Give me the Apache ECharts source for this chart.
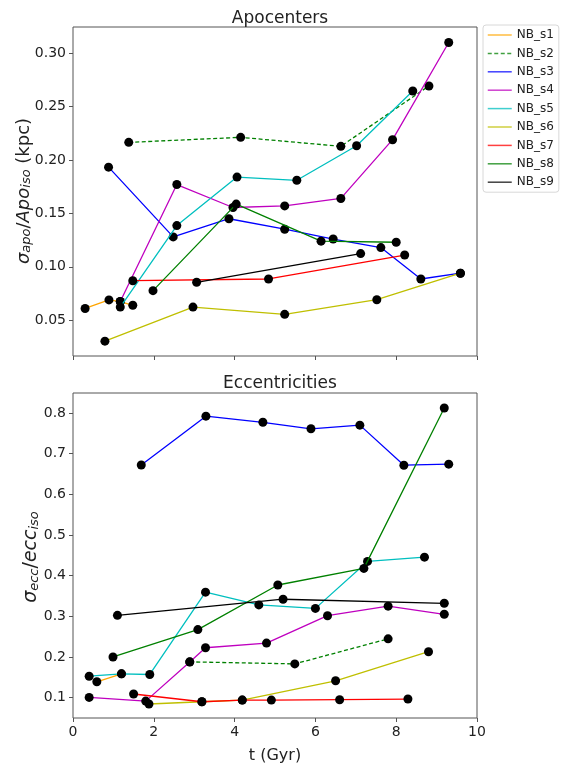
<!DOCTYPE html>
<html>
<head>
<meta charset="utf-8">
<script src="https://cdn.jsdelivr.net/npm/echarts@6/dist/echarts.min.js"></script>
<style>
html, body { margin: 0; padding: 0; background: #fff; }
#main { width: 569px; height: 765px; }
</style>
</head>
<body>
<div id="main"></div>
<script>
var chart = echarts.init(document.getElementById("main"));

var names = ["NB_s1", "NB_s2", "NB_s3", "NB_s4", "NB_s5", "NB_s6", "NB_s7", "NB_s8", "NB_s9"];
var colors = ["#ffa500", "#008000", "#0000ff", "#bf00bf", "#00bfbf", "#bfbf00", "#ff0000", "#008000", "#000000"];

// x ticks (shared)
var xTicks = [0, 2, 4, 6, 8, 10];
// top panel : apocenters  [t (Gyr), sigma_apo/Apo_iso]
var apoTicks = [0.05, 0.10, 0.15, 0.20, 0.25, 0.30];
var apo_s1 = [[0.30, 0.061], [0.89, 0.069], [1.17, 0.0675], [1.48, 0.064]];
var apo_s2 = [[1.38, 0.2165], [4.15, 0.2212], [6.63, 0.2128], [8.81, 0.2693]];
var apo_s3 = [[0.88, 0.1933], [2.48, 0.128], [3.86, 0.145], [5.24, 0.1352], [6.44, 0.126], [7.62, 0.118], [8.61, 0.0886], [9.59, 0.094]];
var apo_s4 = [[1.17, 0.0675], [2.57, 0.177], [3.96, 0.1555], [5.24, 0.157], [6.63, 0.164], [7.91, 0.219], [9.30, 0.310]];
var apo_s5 = [[1.17, 0.0623], [2.57, 0.1386], [4.06, 0.184], [5.54, 0.181], [7.02, 0.2133], [8.41, 0.2646]];
var apo_s6 = [[0.79, 0.0304], [2.97, 0.0623], [5.24, 0.0555], [7.52, 0.0692], [9.59, 0.094]];
var apo_s7 = [[1.48, 0.087], [4.84, 0.0886], [8.21, 0.111]];
var apo_s8 = [[1.98, 0.0777], [4.04, 0.1587], [6.14, 0.124], [8.00, 0.123]];
var apo_s9 = [[3.06, 0.0855], [7.12, 0.1124]];

// bottom panel : eccentricities  [t (Gyr), sigma_ecc/ecc_iso]
var eccTicks = [0.1, 0.2, 0.3, 0.4, 0.5, 0.6, 0.7, 0.8];
var ecc_s1 = [[0.59, 0.139], [1.20, 0.1585]];
var ecc_s2 = [[2.89, 0.188], [5.49, 0.183], [7.80, 0.2446]];
var ecc_s3 = [[1.69, 0.672], [3.29, 0.792], [4.70, 0.777], [5.89, 0.761], [7.10, 0.770], [8.19, 0.6715], [9.30, 0.674]];
var ecc_s4 = [[0.40, 0.1007], [1.80, 0.0915], [2.89, 0.1878], [3.28, 0.2227], [4.79, 0.2341], [6.30, 0.3015], [7.80, 0.325], [9.19, 0.305]];
var ecc_s5 = [[0.40, 0.1527], [1.20, 0.1585], [1.90, 0.157], [3.28, 0.3593], [4.60, 0.328], [6.00, 0.3195], [7.29, 0.435], [8.70, 0.4455]];
var ecc_s6 = [[1.88, 0.0844], [3.19, 0.090], [4.19, 0.094], [6.50, 0.1415], [8.80, 0.2129]];
var ecc_s7 = [[1.50, 0.109], [3.19, 0.090], [4.19, 0.094], [4.91, 0.094], [6.60, 0.095], [8.29, 0.0966]];
var ecc_s8 = [[0.99, 0.2], [3.09, 0.2673], [5.07, 0.377], [7.20, 0.4178], [9.19, 0.812]];
var ecc_s9 = [[1.10, 0.3024], [5.20, 0.342], [9.19, 0.332]];

var apoData = [apo_s1, apo_s2, apo_s3, apo_s4, apo_s5, apo_s6, apo_s7, apo_s8, apo_s9];
var eccData = [ecc_s1, ecc_s2, ecc_s3, ecc_s4, ecc_s5, ecc_s6, ecc_s7, ecc_s8, ecc_s9];

var font = "DejaVu Sans";
var axisGray = "#555";
var textColor = "#222";

function makeSeries(list, panel) {
  var result = [];
  list.forEach(function (data, i) {
    result.push({
      name: names[i],
      type: "line",
      xAxisIndex: panel,
      yAxisIndex: panel,
      data: data,
      symbol: "circle",
      symbolSize: 9,
      itemStyle: { color: "#000" },
      lineStyle: {
        color: colors[i],
        width: 1.3,
        type: i === 1 ? [4, 2.5] : "solid",
      },
      emphasis: { disabled: true },
      z: 2 + i,
    });
  });
  return result;
}

function xAxisCfg(panel, showLabel) {
  return {
    type: "value",
    gridIndex: panel,
    min: 0,
    max: 10,
    interval: 2,
    axisLine: { show: false },
    axisTick: { show: true, inside: false, length: 4, lineStyle: { color: axisGray } },
    axisLabel: { show: showLabel, margin: 7, color: textColor, fontFamily: font, fontSize: 14 },
    splitLine: { show: false },
    name: showLabel ? "t (Gyr)" : "",
    nameLocation: "middle",
    nameGap: 30,
    nameTextStyle: { color: textColor, fontFamily: font, fontSize: 16 },
  };
}

function yAxisCfg(panel, min, max, ticks, digits) {
  return {
    type: "value",
    gridIndex: panel,
    min: min,
    max: max,
    axisLine: { show: false },
    axisTick: { show: true, inside: false, length: 4, lineStyle: { color: axisGray }, customValues: ticks },
    axisLabel: {
      margin: 7,
      color: textColor,
      fontFamily: font,
      fontSize: 14,
      customValues: ticks,
      formatter: function (v) {
        return v.toFixed(digits);
      },
    },
    splitLine: { show: false },
  };
}

var option = {
  animation: false,
  backgroundColor: "#fff",
  title: [
    {
      text: "Apocenters",
      left: 275,
      top: 5,
      textAlign: "center",
      textStyle: { fontFamily: font, fontSize: 17, fontWeight: "normal", color: textColor },
    },
    {
      text: "Eccentricities",
      left: 275,
      top: 370,
      textAlign: "center",
      textStyle: { fontFamily: font, fontSize: 17, fontWeight: "normal", color: textColor },
    },
  ],
  legend: {
    data: names,
    orient: "vertical",
    left: 483,
    top: 25,
    padding: [4, 5, 4, 4],
    itemWidth: 24,
    itemHeight: 12,
    itemGap: 6.4,
    itemStyle: { opacity: 0 },
    lineStyle: { width: 1.5, opacity: 0.75 },
    borderColor: "#d8d8d8",
    borderWidth: 1,
    borderRadius: 3,
    backgroundColor: "#fff",
    selectedMode: false,
    textStyle: { fontFamily: font, fontSize: 12, color: textColor, lineHeight: 12 },
  },
  grid: [
    { left: 73, top: 27, width: 404, height: 329, show: true, borderColor: axisGray, borderWidth: 1, backgroundColor: "transparent" },
    { left: 73, top: 393, width: 404, height: 328, show: true, borderColor: axisGray, borderWidth: 1, backgroundColor: "transparent" },
  ],
  xAxis: [xAxisCfg(0, false), xAxisCfg(1, true)],
  yAxis: [
    yAxisCfg(0, 0.0165, 0.3245, apoTicks, 2),
    yAxisCfg(1, 0.05, 0.849, eccTicks, 1),
  ],
  graphic: [
    {
      type: "text",
      x: 22,
      y: 191,
      rotation: Math.PI / 2,
      style: {
        text: "{i|σ}{sub|apo}{n|/}{i|Apo}{sub|iso}{n| (kpc)}",
        align: "center",
        verticalAlign: "middle",
        fill: textColor,
        rich: {
          i: { fontFamily: font, fontSize: 18, fontStyle: "italic", lineHeight: 22, verticalAlign: "bottom" },
          n: { fontFamily: font, fontSize: 18, lineHeight: 22, verticalAlign: "bottom" },
          sub: { fontFamily: font, fontSize: 13, fontStyle: "italic", lineHeight: 12, padding: [10, 0, 0, 0], verticalAlign: "bottom" },
        },
      },
    },
    {
      type: "text",
      x: 30,
      y: 557,
      rotation: Math.PI / 2,
      style: {
        text: "{i|σ}{sub|ecc}{n|/}{i|ecc}{sub|iso}",
        align: "center",
        verticalAlign: "middle",
        fill: textColor,
        rich: {
          i: { fontFamily: font, fontSize: 19, fontStyle: "italic", lineHeight: 22, verticalAlign: "bottom" },
          n: { fontFamily: font, fontSize: 19, lineHeight: 22, verticalAlign: "bottom" },
          sub: { fontFamily: font, fontSize: 13, fontStyle: "italic", lineHeight: 12, padding: [10, 0, 0, 0], verticalAlign: "bottom" },
        },
      },
    },
  ],
  series: makeSeries(apoData, 0).concat(makeSeries(eccData, 1)),
};

chart.setOption(option);
</script>
</body>
</html>
